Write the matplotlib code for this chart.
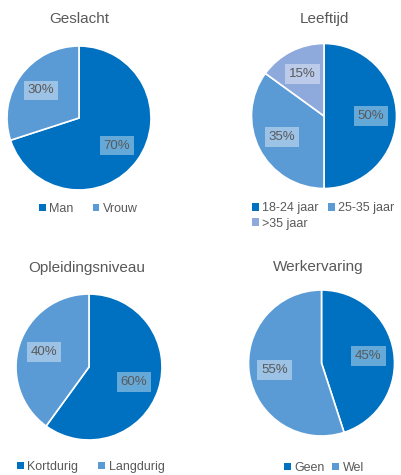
import matplotlib
matplotlib.use("Agg")
import matplotlib.pyplot as plt
from matplotlib.patches import Patch

plt.rcParams['font.family'] = ['Liberation Sans', 'DejaVu Sans']

W, H = 402, 475
DARK = '#0070C0'
MID = '#5B9BD5'
LIGHT = '#8EA9DB'
TXT = '#595959'

geslacht_labels = ['Man', 'Vrouw']
geslacht_values = [70, 30]
leeftijd_labels = ['18-24 jaar', '25-35 jaar', '>35 jaar']
leeftijd_values = [50, 35, 15]
opleiding_labels = ['Kortdurig', 'Langdurig']
opleiding_values = [60, 40]
werk_labels = ['Geen', 'Wel']
werk_values = [45, 55]

fig = plt.figure(figsize=(W / 100, H / 100), dpi=100)
fig.patch.set_facecolor('white')


def px_axes(cx, cy, r):
    return fig.add_axes([(cx - r) / W, (H - cy - r) / H, 2 * r / W, 2 * r / H])


def draw(cx, cy, r, values, labels, colors, title, title_xy, leg_xy, order=None, ncol=2, colsp=1.5):
    ax = px_axes(cx, cy, r)
    wedges, texts, autotexts = ax.pie(
        values, colors=colors, startangle=90, counterclock=False,
        autopct='%1.0f%%', pctdistance=0.65, radius=1,
        wedgeprops=dict(edgecolor='white', linewidth=1.2))
    for t in autotexts:
        t.set_color(TXT)
        t.set_fontsize(9.5)
        t.set_bbox(dict(facecolor='white', alpha=0.4, edgecolor='none', boxstyle='square,pad=0.3'))
    ax.set_xlim(-1, 1)
    ax.set_ylim(-1, 1)
    ax.set_aspect('equal')
    ax.axis('off')
    fig.text(title_xy[0] / W, 1 - title_xy[1] / H, title, ha='center', va='center',
             fontsize=11, color=TXT)
    handles = [Patch(facecolor=c, edgecolor='none') for c in colors]
    labs = list(labels)
    if order is not None:
        handles = [handles[i] for i in order]
        labs = [labs[i] for i in order]
    fig.legend(handles, labs, loc='center left',
               bbox_to_anchor=(leg_xy[0] / W, 1 - leg_xy[1] / H),
               ncol=ncol, frameon=False, fontsize=9, labelcolor=TXT,
               handlelength=0.55, handleheight=0.55, handletextpad=0.28,
               columnspacing=colsp, borderpad=0, borderaxespad=0, labelspacing=0.25)


draw(79, 118, 72, geslacht_values, geslacht_labels, [DARK, MID], 'Geslacht', (79, 19), (39, 209), colsp=1.5)
draw(324, 116, 72.5, leeftijd_values, leeftijd_labels, [DARK, MID, LIGHT], 'Leeftijd', (324, 19), (252, 216), order=[0, 2, 1], colsp=0.7)
draw(89, 367, 73, opleiding_values, opleiding_labels, [DARK, MID], 'Opleidingsniveau', (87, 268), (17, 467), colsp=1.6)
draw(321.5, 363, 73, werk_values, werk_labels, [DARK, MID], 'Werkervaring', (318, 267), (284, 468), colsp=0.6)

fig.savefig('out.png', dpi=100, facecolor='white')
